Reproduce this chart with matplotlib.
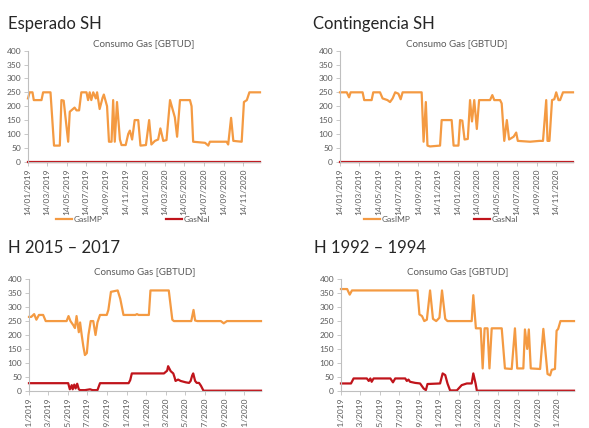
import numpy as np
import pandas as pd
import matplotlib
matplotlib.use("Agg")
import matplotlib.pyplot as plt
import matplotlib.dates as mdates

plt.rcParams['font.family'] = ['Lato', 'DejaVu Sans']

# days counted from 14/01/2019, values in GBTUD
start = pd.Timestamp("2019-01-14")
last_day = 722

esp_imp_days = [0, 5, 14, 18, 42, 47, 70, 81, 99, 104, 111, 125, 130, 145, 151, 159,
                166, 182, 187, 192, 197, 203, 211, 215, 223, 232, 236, 246, 252, 260,
                265, 270, 277, 286, 291, 304, 312, 317, 324, 332, 343, 350, 367, 377,
                384, 395, 405, 412, 421, 431, 442, 457, 464, 473, 504, 509, 514, 551,
                561, 566, 618, 623, 632, 639, 665, 672, 681, 689, 722]
esp_imp_vals = [228, 250, 250, 222, 222, 250, 250, 58, 58, 222, 220, 72, 180, 195, 185, 185,
                250, 250, 222, 250, 222, 250, 228, 250, 190, 230, 242, 200, 72, 72,
                222, 72, 215, 80, 60, 60, 100, 112, 80, 150, 150, 58, 60, 150,
                62, 75, 80, 120, 75, 78, 222, 160, 90, 222, 222, 200, 72, 68,
                58, 72, 72, 62, 158, 75, 72, 215, 222, 250, 250]
esp_nal_days = [0, 722]
esp_nal_vals = [0, 0]

con_imp_days = [0, 21, 28, 33, 70, 75, 98, 103, 124, 132, 147, 155, 163, 171, 181, 188,
                194, 253, 259, 266, 271, 279, 310, 315, 346, 352, 367, 372, 379, 386,
                396, 403, 409, 416, 424, 431, 465, 472, 478, 496, 501, 509, 517, 524,
                538, 546, 551, 589, 618, 629, 639, 643, 649, 657, 664, 670, 677, 682,
                691, 722]
con_imp_vals = [250, 250, 232, 250, 250, 222, 222, 250, 250, 228, 222, 215, 228, 250, 245, 225,
                250, 250, 72, 215, 58, 55, 58, 150, 150, 58, 58, 150, 148, 80,
                82, 222, 145, 222, 118, 222, 222, 240, 222, 222, 210, 75, 150, 80,
                90, 105, 75, 72, 75, 75, 222, 75, 75, 222, 225, 250, 222, 222,
                250, 250]
con_nal_days = [0, 722]
con_nal_vals = [0, 0]

h15_imp_days = [0, 7, 16, 23, 31, 44, 52, 117, 123, 129, 138, 143, 148, 155, 159, 164,
                169, 174, 180, 185, 192, 200, 207, 213, 221, 242, 247, 255, 276, 284,
                294, 331, 336, 341, 373, 378, 435, 446, 451, 505, 512, 517, 524, 597,
                606, 616, 722]
h15_imp_vals = [265, 265, 275, 255, 272, 272, 250, 250, 268, 250, 235, 225, 268, 210, 245, 200,
                160, 128, 135, 200, 250, 250, 200, 245, 272, 272, 290, 355, 360, 330,
                272, 272, 275, 272, 272, 360, 360, 255, 250, 250, 290, 252, 250, 250,
                242, 250, 250]
h15_nal_days = [0, 122, 127, 133, 136, 141, 145, 150, 155, 159, 174, 190, 198, 213, 221,
                310, 315, 320, 420, 430, 433, 441, 449, 453, 456, 464, 472, 488, 498,
                503, 508, 511, 517, 522, 529, 535, 543, 722]
h15_nal_vals = [27, 27, 5, 20, 5, 22, 8, 25, 5, 2, 2, 5, 2, 2, 27,
                27, 38, 62, 62, 72, 88, 70, 62, 48, 35, 40, 35, 30, 28,
                35, 55, 62, 35, 28, 28, 18, 0, 0]

h92_imp_days = [0, 19, 27, 34, 237, 243, 251, 258, 266, 276, 285, 295, 305, 313, 323, 330,
                405, 410, 418, 433, 439, 445, 454, 460, 467, 498, 508, 529, 539, 546,
                565, 570, 577, 582, 588, 617, 627, 640, 648, 653, 663, 668, 673, 680,
                722]
h92_imp_vals = [365, 365, 345, 360, 360, 274, 268, 250, 255, 360, 258, 250, 262, 360, 258, 250,
                250, 343, 224, 224, 80, 224, 224, 80, 224, 224, 80, 78, 224, 80,
                80, 220, 150, 220, 80, 78, 222, 60, 55, 75, 78, 215, 222, 250,
                250]
h92_nal_days = [0, 31, 39, 80, 86, 91, 95, 101, 153, 161, 168, 199, 204, 209, 214, 230,
                245, 256, 263, 268, 307, 315, 323, 330, 338, 359, 374, 390, 405, 410,
                417, 421, 722]
h92_nal_vals = [26, 26, 44, 44, 35, 44, 32, 44, 44, 30, 44, 44, 35, 40, 32, 28,
                26, 8, 2, 24, 26, 62, 56, 26, 1, 1, 20, 26, 26, 62,
                26, 0, 0]

headings = ["Esperado SH", "Contingencia SH", "H 2015 \u2013 2017", "H 1992 \u2013 1994"]
series = [
    (esp_imp_days, esp_imp_vals, esp_nal_days, esp_nal_vals),
    (con_imp_days, con_imp_vals, con_nal_days, con_nal_vals),
    (h15_imp_days, h15_imp_vals, h15_nal_days, h15_nal_vals),
    (h92_imp_days, h92_imp_vals, h92_nal_days, h92_nal_vals),
]

ORANGE = "#F49A42"
RED = "#C0141B"
GREY = "#595959"
AXIS = "#BFBFBF"

W, H = 589, 428
# axes rects in pixels: left, right, top(400), bottom(0)
rects = [(28, 260, 50.7, 161.7), (340, 573, 50.7, 161.7),
         (29, 261, 279.3, 390.7), (341, 574, 279.3, 390.7)]
head_pos = [(8, 29), (313, 29), (8, 253), (314, 253)]
legend_pos = [(133, 219), (441, 219), None, None]

tick_dates = pd.date_range("2019-01-14", periods=12, freq=pd.DateOffset(months=2))


def to_dates(days):
    return start + pd.to_timedelta(days, unit="D")


fig = plt.figure(figsize=(W / 100, H / 100), dpi=100)

for i in range(4):
    l, r, t, b = rects[i]
    ax = fig.add_axes([l / W, 1 - b / H, (r - l) / W, (b - t) / H])
    imp_d, imp_v, nal_d, nal_v = series[i]
    ax.plot(to_dates(imp_d), imp_v, color=ORANGE, lw=1.6, label="GasIMP",
            clip_on=False, solid_joinstyle="round")
    ax.plot(to_dates(nal_d), nal_v, color=RED, lw=1.6, label="GasNal",
            clip_on=False, solid_joinstyle="round")
    ax.set_ylim(0, 400)
    ax.set_yticks(np.arange(0, 401, 50))
    ax.set_xlim(start, start + pd.Timedelta(days=last_day))
    ax.set_xticks(tick_dates)
    ax.xaxis.set_major_formatter(mdates.DateFormatter("%d/%m/%Y"))
    ax.tick_params(axis="x", labelrotation=90, labelsize=6, colors=GREY,
                   length=3, width=0.6, color=AXIS, pad=2)
    ax.tick_params(axis="y", labelsize=6, colors=GREY, length=3, width=0.6,
                   color=AXIS, pad=2)
    for s in ["top", "right"]:
        ax.spines[s].set_visible(False)
    for s in ["left", "bottom"]:
        ax.spines[s].set_color(AXIS)
        ax.spines[s].set_linewidth(0.8)
    ax.set_title("Consumo Gas [GBTUD]", fontsize=7, color=GREY, pad=3.5)

    hx, hy = head_pos[i]
    fig.text(hx / W, 1 - hy / H, headings[i], fontsize=12, color="#262626",
             va="baseline", ha="left")

    if legend_pos[i] is not None:
        lx, ly = legend_pos[i]
        ax.legend(loc="center", bbox_to_anchor=(lx / W, 1 - ly / H),
                  bbox_transform=fig.transFigure, ncol=2, frameon=False,
                  fontsize=6, labelcolor=GREY, handlelength=2.0,
                  handletextpad=0.2, columnspacing=7.5)

fig.savefig("out.png", dpi=100)
